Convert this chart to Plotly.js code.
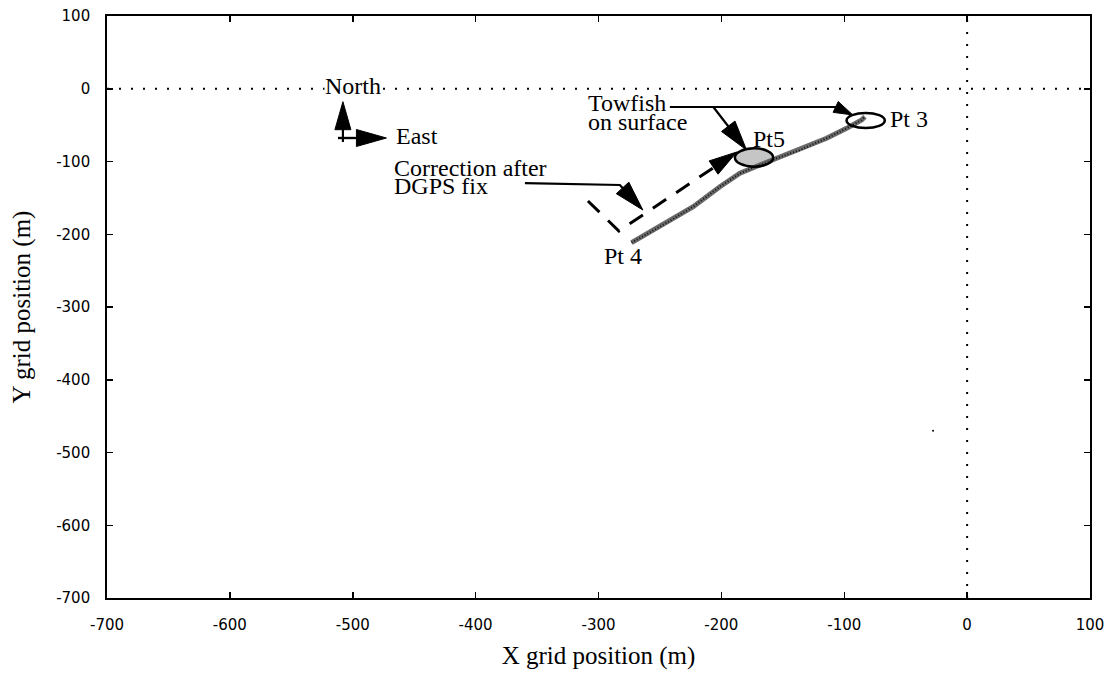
<!DOCTYPE html>
<html>
<head>
<meta charset="utf-8">
<script src="https://cdn.plot.ly/plotly-3.0.1.min.js"></script>
<style>html,body{margin:0;padding:0;background:#fff;}#chart{width:1109px;height:673px;}</style>
</head>
<body>
<div id="chart"></div>
<script>
// ---- data ----
const trackX = [-273.1, -250.0, -222.9, -201.2, -184.9, -168.7, -155.1, -136.0, -114.4, -98.1, -85.9, -83.2];
const trackY = [-211.6, -189.6, -162.1, -134.6, -116.2, -104.8, -95.6, -84.2, -68.1, -54.4, -43.0, -38.4];
const correctedX = [-308.6, -283.4, -187.4];
const correctedY = [-154.3, -195.5, -86.9];
const strayX = [-27.7];
const strayY = [-470];
const tickVals = [-700, -600, -500, -400, -300, -200, -100, 0, 100];
const tickText = ['-700', '-600', '-500', '-400', '-300', '-200', '-100', '0', '100'];
const labelText = ['North', 'East', 'Towfish', 'on surface', 'Correction after', 'DGPS fix', 'Pt5', 'Pt 3', 'Pt 4'];
const labelX = [-499.8, -465.7, -309.4, -309.4, -467.0, -467.0, -175.4, -63.3, -296.4];
const labelY = [3.8, -65.6, -19.6, -46.0, -108.9, -133.0, -69.5, -42.0, -230.3];
const labelAnchor = ['center', 'left', 'left', 'left', 'left', 'left', 'left', 'left', 'left'];
// ellipses [x0,x1,y0,y1]
const pt3Ellipse = [-98.1, -67.0, -54.0, -33.3];
const pt5Ellipse = [-189.0, -157.8, -107.1, -81.9];
// arrows: polyline points, last point = tip
const arrows = [
  {x: [-508, -508], y: [-73.2, -17.8], len: 28, wid: 16},             // North
  {x: [-512, -472.6], y: [-67.7, -67.7], len: 30, wid: 17},            // East
  {x: [-241.9, -106.8, -93.0], y: [-25.1, -25.1, -36.1], len: 19, wid: 12}, // towfish -> Pt3
  {x: [-206.7, -179.5], y: [-24.7, -84.2], len: 30, wid: 17},          // towfish -> Pt5
  {x: [-359.9, -282.6, -263.9], y: [-129.6, -132.3, -166.7], len: 30, wid: 17} // correction
];

// ---- layout geometry ----
const W = 1109, H = 673;
const M = {l: 107, r: 19, t: 16, b: 75};
const xr = [-700, 100], yr = [-700, 100];
const sx = (W - M.l - M.r) / (xr[1] - xr[0]);
const sy = (H - M.t - M.b) / (yr[1] - yr[0]);

function headPath(tx, ty, fx, fy, len, wid) {
  const dx = (tx - fx) * sx, dy = -(ty - fy) * sy;
  const L = Math.hypot(dx, dy);
  const ux = dx / L, uy = dy / L;
  const px = -uy, py = ux;
  const bx = -ux * len, by = -uy * len;
  const p1 = [bx + px * wid / 2, by + py * wid / 2];
  const p2 = [bx - px * wid / 2, by - py * wid / 2];
  const toD = p => [tx + p[0] / sx, ty - p[1] / sy];
  const a = toD(p1), b = toD(p2);
  return `M${tx},${ty} L${a[0]},${a[1]} L${b[0]},${b[1]} Z`;
}
function shortened(tx, ty, fx, fy, by) {
  const dx = (tx - fx) * sx, dy = -(ty - fy) * sy;
  const L = Math.hypot(dx, dy);
  return [tx - (dx / L) * by / sx, ty + (dy / L) * by / sy];
}

const shapes = [];
// dotted zero lines
shapes.push({type: 'line', xref: 'x', yref: 'y', x0: xr[0], x1: xr[1], y0: 0, y1: 0,
  line: {color: '#000', width: 2, dash: '2px,10px'}, layer: 'below'});
shapes.push({type: 'line', xref: 'x', yref: 'y', x0: 0, x1: 0, y0: yr[0], y1: yr[1],
  line: {color: '#000', width: 2, dash: '2px,10px'}, layer: 'below'});
// ellipses
shapes.push({type: 'circle', xref: 'x', yref: 'y', x0: pt3Ellipse[0], x1: pt3Ellipse[1], y0: pt3Ellipse[2], y1: pt3Ellipse[3],
  line: {color: '#000', width: 2.5}});
shapes.push({type: 'circle', xref: 'x', yref: 'y', x0: pt5Ellipse[0], x1: pt5Ellipse[1], y0: pt5Ellipse[2], y1: pt5Ellipse[3],
  line: {color: '#000', width: 2.5}, fillcolor: 'rgba(90,90,90,0.35)'});
// corrected dashed path
{
  const n = correctedX.length;
  const e = shortened(correctedX[n-1], correctedY[n-1], correctedX[n-2], correctedY[n-2], 20);
  let d = `M${correctedX[0]},${correctedY[0]}`;
  for (let i = 1; i < n - 1; i++) d += ` L${correctedX[i]},${correctedY[i]}`;
  d += ` L${e[0]},${e[1]}`;
  shapes.push({type: 'path', xref: 'x', yref: 'y', path: d, line: {color: '#000', width: 3, dash: '16px,12px'}});
  shapes.push({type: 'path', xref: 'x', yref: 'y',
    path: headPath(correctedX[n-1], correctedY[n-1], correctedX[n-2], correctedY[n-2], 28, 16),
    fillcolor: '#000', line: {color: '#000', width: 1}});
}
// solid arrows
arrows.forEach(a => {
  const n = a.x.length;
  const e = shortened(a.x[n-1], a.y[n-1], a.x[n-2], a.y[n-2], a.len * 0.6);
  let d = `M${a.x[0]},${a.y[0]}`;
  for (let i = 1; i < n - 1; i++) d += ` L${a.x[i]},${a.y[i]}`;
  d += ` L${e[0]},${e[1]}`;
  shapes.push({type: 'path', xref: 'x', yref: 'y', path: d, line: {color: '#000', width: 2.2}});
  shapes.push({type: 'path', xref: 'x', yref: 'y',
    path: headPath(a.x[n-1], a.y[n-1], a.x[n-2], a.y[n-2], a.len, a.wid),
    fillcolor: '#000', line: {color: '#000', width: 1}});
});
// compass cross bar
shapes.push({type: 'line', xref: 'x', yref: 'y', x0: -512, x1: -498, y0: -67.7, y1: -67.7, line: {color: '#000', width: 2.2}});

const annotations = labelText.map((t, i) => ({
  x: labelX[i], y: labelY[i], xref: 'x', yref: 'y', text: t, showarrow: false,
  xanchor: labelAnchor[i], yanchor: 'middle',
  font: {family: 'Liberation Serif', size: 24, color: '#000'},
  bgcolor: i === 0 ? '#fff' : 'rgba(0,0,0,0)', borderpad: 0
}));

const traces = [
  {x: trackX, y: trackY, type: 'scatter', mode: 'lines', line: {color: '#6a6a6a', width: 5}, hoverinfo: 'skip'},
  {x: trackX, y: trackY, type: 'scatter', mode: 'lines', line: {color: '#111', width: 2, dash: '1px,2px'}, hoverinfo: 'skip'},
  {x: strayX, y: strayY, type: 'scatter', mode: 'markers', marker: {color: '#000', size: 2}, hoverinfo: 'skip'}
];

const axisCommon = {
  tickmode: 'array', tickvals: tickVals, ticktext: tickText,
  ticks: 'inside', ticklen: 6, tickwidth: 1.5, tickcolor: '#000',
  showline: true, linewidth: 1.8, linecolor: '#000', mirror: 'ticks',
  showgrid: false, zeroline: false, fixedrange: true,
  tickfont: {family: 'DejaVu Sans', size: 15, color: '#000'}
};

const layout = {
  width: W, height: H, margin: M, showlegend: false,
  paper_bgcolor: '#fff', plot_bgcolor: '#fff',
  xaxis: Object.assign({}, axisCommon, {range: xr, ticklabelstandoff: 12,
    title: {text: 'X grid position (m)', standoff: 14, font: {family: 'Liberation Serif', size: 25, color: '#000'}}}),
  yaxis: Object.assign({}, axisCommon, {range: yr, ticklabelstandoff: 12,
    title: {text: 'Y grid position (m)', standoff: 18, font: {family: 'Liberation Serif', size: 25, color: '#000'}}}),
  shapes: shapes, annotations: annotations
};

Plotly.newPlot('chart', traces, layout, {displayModeBar: false, staticPlot: true});
</script>
</body>
</html>
